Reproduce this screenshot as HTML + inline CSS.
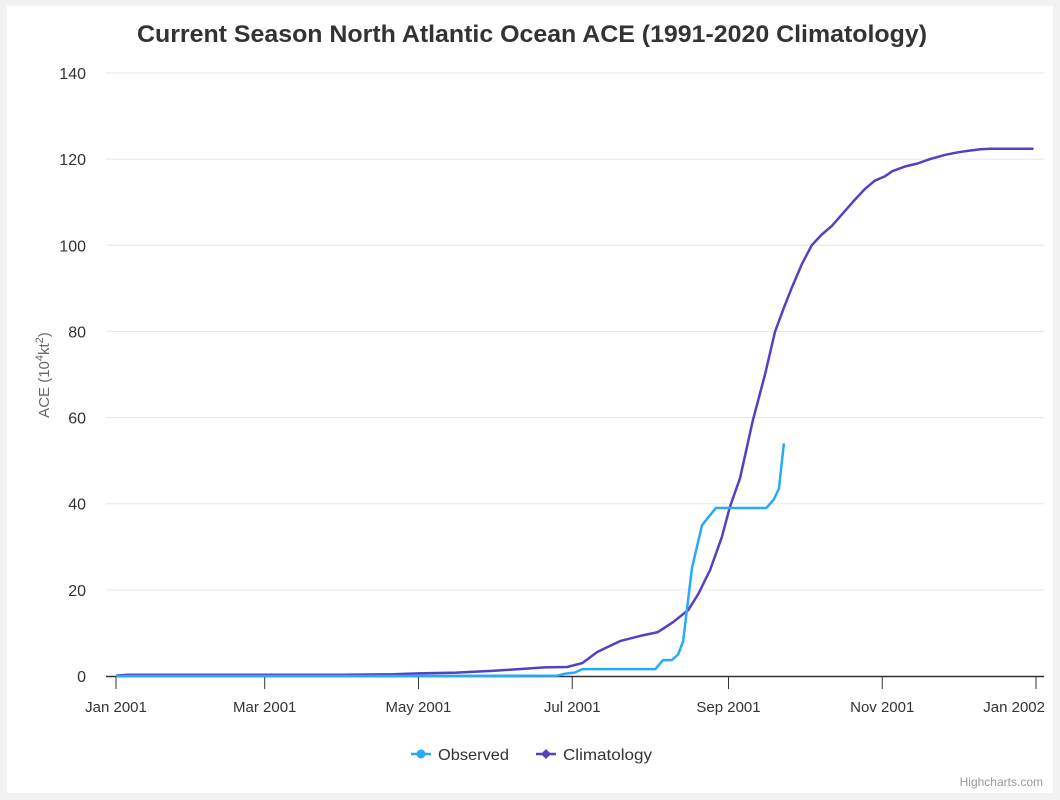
<!DOCTYPE html>
<html><head><meta charset="utf-8"><style>
html,body{margin:0;padding:0;background:#f2f2f2;width:1060px;height:800px;overflow:hidden;font-family:"Liberation Sans",sans-serif}
#card{position:absolute;left:7px;top:6px;width:1046px;height:787px;background:#fff}
svg{position:absolute;left:0;top:0}
</style></head><body>
<div id="card"></div>
<svg id="chart" width="1060" height="800"></svg>
<script>
const yTicks=[0,20,40,60,80,100,120,140];
const xTickDays=[0,59,120,181,243,304,365];
const xTickLabels=["Jan 2001","Mar 2001","May 2001","Jul 2001","Sep 2001","Nov 2001","Jan 2002"];
const climDays=[0,5,30,60,90,110,120,135,150,160,170,179,185,191,200,208,215,221,227,231,235.7,240.4,243.5,247.6,252.7,257.5,261.5,265,268,272,276,280,284,287,290,293,297,301,305,308,313,318,323,329,334,339,343,347,364];
const climVals=[0.1,0.3,0.3,0.3,0.3,0.4,0.6,0.8,1.2,1.6,2.0,2.1,3.0,5.6,8.1,9.3,10.2,12.5,15.3,19,24.6,32.3,39.2,46,59.4,70,80,85.5,90,95.5,100,102.5,104.5,106.5,108.5,110.5,113,115,116,117.2,118.3,119,120,121,121.6,122,122.3,122.4,122.4];
const obsDays=[0,100,175,178,182,185,214,217,220.5,223,225,228.5,232.5,234.5,238,258,261,263,265];
const obsVals=[0,0,0.1,0.5,0.8,1.6,1.6,3.7,3.7,5,8,25,35,36.5,39,39,41,43.5,54];

const NS="http://www.w3.org/2000/svg";
const svg=document.getElementById('chart');
const X0=116,X1=1036,Y0=676,Y1=73;
const xs=d=>X0+(X1-X0)*d/365;
const ys=v=>Y0-(Y0-Y1)*v/140;
function mk(t,a,txt){const e=document.createElementNS(NS,t);for(const k in a)e.setAttribute(k,a[k]);if(txt!=null)e.textContent=txt;svg.appendChild(e);return e;}

let e=mk('text',{x:532,y:42,'text-anchor':'middle','font-size':'24','font-weight':'bold',fill:'#333',textLength:790,lengthAdjust:'spacingAndGlyphs'},'Current Season North Atlantic Ocean ACE (1991-2020 Climatology)');



yTicks.forEach(v=>{
  if(v>0){const g=mk('line',{x1:106,x2:1044,y1:ys(v),y2:ys(v),stroke:'#e6e6e6','stroke-width':1});
  
  }
  const t=mk('text',{x:86,y:ys(v)+6,'text-anchor':'end','font-size':'16',fill:'#333'},String(v));
  
  
});
e=mk('text',{x:49,y:375,'text-anchor':'middle','font-size':'15',fill:'#666',transform:'rotate(-90 49 375)'});
e.innerHTML='ACE (10<tspan dy="-6" font-size="11">4</tspan><tspan dy="6">kt</tspan><tspan dy="-6" font-size="11">2</tspan><tspan dy="6">)</tspan>';



e=mk('line',{x1:106,x2:1044,y1:Y0+0.5,y2:Y0+0.5,stroke:'#333','stroke-width':1.5});


xTickDays.forEach((d,i)=>{
  const l=mk('line',{x1:xs(d),x2:xs(d),y1:Y0,y2:Y0+13,stroke:'#333','stroke-width':1});
  
  
  const last=i===xTickDays.length-1;
  const t=mk('text',{x:last?1045:xs(d),y:712,'text-anchor':last?'end':'middle','font-size':'15',fill:'#333'},xTickLabels[i]);
  
  
});

function line(days,vals,color,name){
  const p=mk('path',{d:days.map((d,i)=>(i?'L':'M')+xs(d).toFixed(1)+','+ys(vals[i]).toFixed(1)).join(''),fill:'none',stroke:color,'stroke-width':2.5,'stroke-linejoin':'round'});
  
  
}
line(climDays,climVals,'#5540c4','climatology-line');
line(obsDays,obsVals,'#29aaf4','observed-line');

e=mk('g',{});


mk('line',{x1:411,x2:431,y1:754,y2:754,stroke:'#29aaf4','stroke-width':2.5});
mk('circle',{cx:421,cy:754,r:4.5,fill:'#29aaf4'});
mk('text',{x:438,y:760,'font-size':'16',fill:'#333',textLength:71,lengthAdjust:'spacingAndGlyphs'},'Observed');
e=mk('g',{});


mk('line',{x1:536,x2:556,y1:754,y2:754,stroke:'#5540c4','stroke-width':2.5});
mk('path',{d:'M546,749L551,754L546,759L541,754Z',fill:'#5540c4'});
mk('text',{x:563,y:760,'font-size':'16',fill:'#333',textLength:89,lengthAdjust:'spacingAndGlyphs'},'Climatology');
e=mk('text',{x:1043,y:786,'text-anchor':'end','font-size':'12',fill:'#999'},'Highcharts.com');


</script>
</body></html>
